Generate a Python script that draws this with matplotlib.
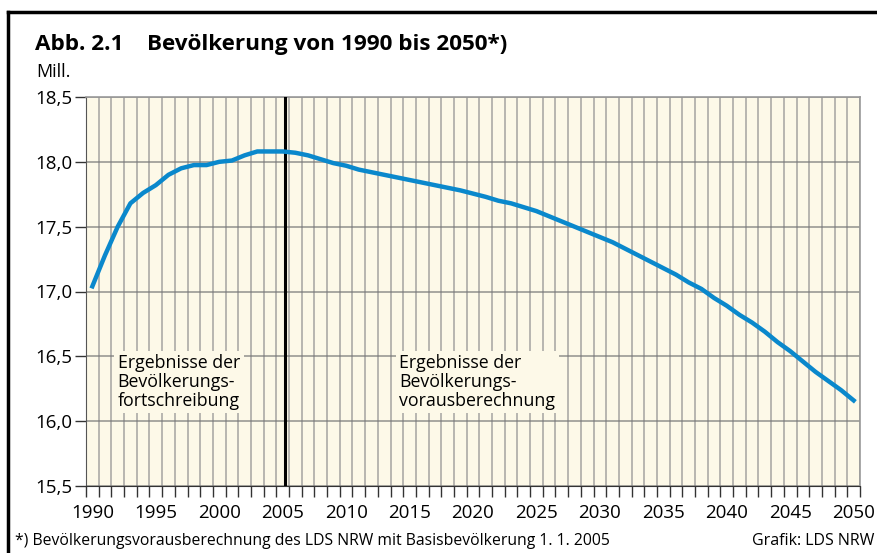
import numpy as np
import matplotlib.pyplot as plt
from matplotlib.lines import Line2D

plt.rcParams['font.family'] = ['Open Sans', 'DejaVu Sans']

# Bevölkerung NRW in Mill.
years = list(range(1990, 2051))
population = [17.04, 17.28, 17.50, 17.68, 17.76, 17.82, 17.90, 17.95, 17.975, 17.975,
              18.00, 18.01, 18.05, 18.08, 18.08, 18.08, 18.07, 18.05, 18.02, 17.99,
              17.97, 17.94, 17.92, 17.90, 17.88, 17.86, 17.84, 17.82, 17.80, 17.78,
              17.755, 17.73, 17.70, 17.68, 17.65, 17.62, 17.58, 17.54, 17.50, 17.46,
              17.42, 17.38, 17.33, 17.28, 17.23, 17.18, 17.13, 17.07, 17.02, 16.95,
              16.89, 16.82, 16.76, 16.69, 16.61, 16.54, 16.46, 16.38, 16.31, 16.24,
              16.16]
y_ticks = [15.5, 16.0, 16.5, 17.0, 17.5, 18.0, 18.5]
y_labels = ['15,5', '16,0', '16,5', '17,0', '17,5', '18,0', '18,5']
x_label_years = list(range(1990, 2051, 5))
split_year = 2005.2

bg = '#fdf9e8'
blue = '#0a88cc'

fig = plt.figure(figsize=(8.77, 5.53), dpi=100)
ax = fig.add_axes([86 / 877, 1 - 486 / 553, 774 / 877, 389 / 553])
ax.set_facecolor(bg)

ax.set_xlim(1989.5, 2050.5)
ax.set_ylim(15.5, 18.5)

# gridlines
ax.set_xticks(np.arange(1989.5, 2051, 1.0), minor=True)
ax.set_xticks(x_label_years)
ax.set_xticklabels([str(y) for y in x_label_years], fontsize=13.5)
ax.tick_params(axis='x', which='major', length=0, pad=13)
ax.tick_params(axis='x', which='minor', length=8, width=1, color='#333333', direction='out')
ax.grid(axis='x', which='minor', color='#8f8f8f', linewidth=1.1, alpha=0.8)

ax.set_yticks(y_ticks)
ax.set_yticklabels(y_labels, fontsize=13.5)
ax.tick_params(axis='y', length=8, width=1, color='#333333', pad=2)
ax.grid(axis='y', which='major', color='#777777', linewidth=1.1, alpha=0.8)
ax.set_axisbelow(True)

for s in ['top', 'right']:
    ax.spines[s].set_color('#999999')
    ax.spines[s].set_linewidth(1.2)
ax.spines['left'].set_color('#555555')
ax.spines['bottom'].set_color('#333333')

ax.axvline(split_year, color='black', linewidth=2.2, zorder=3)
ax.plot(years, population, color=blue, linewidth=3.2, solid_joinstyle='round', zorder=4)

box = dict(facecolor=bg, edgecolor='none', pad=2.5)
ax.text(1992.0, 16.515, 'Ergebnisse der\nBevölkerungs-\nfortschreibung', fontsize=12.8,
        va='top', ha='left', linespacing=1.05, bbox=box, zorder=5)
ax.text(2014.2, 16.515, 'Ergebnisse der\nBevölkerungs-\nvorausberechnung', fontsize=12.8,
        va='top', ha='left', linespacing=1.05, bbox=box, zorder=5)

# titles and notes
fig.text(35 / 877, 1 - 50 / 553, 'Abb. 2.1', fontsize=16.2, fontweight='bold', va='baseline')
fig.text(147 / 877, 1 - 50 / 553, 'Bevölkerung von 1990 bis 2050*)', fontsize=16.2,
         fontweight='bold', va='baseline')
fig.text(36 / 877, 1 - 72 / 553, 'Mill.', fontsize=13, va='center')
fig.text(15 / 877, 1 - 541 / 553, '*) Bevölkerungsvorausberechnung des LDS NRW mit Basisbevölkerung 1. 1. 2005',
         fontsize=11.3, va='center')
fig.text(874 / 877, 1 - 541 / 553, 'Grafik: LDS NRW', fontsize=11.5, va='center', ha='right')

# frame
fig.add_artist(Line2D([8 / 877, 1], [1 - 12 / 553, 1 - 12 / 553], color='black', linewidth=2.5))
fig.add_artist(Line2D([8 / 877, 8 / 877], [0, 1 - 12 / 553], color='black', linewidth=2.5))

fig.savefig('out.png', dpi=100)
